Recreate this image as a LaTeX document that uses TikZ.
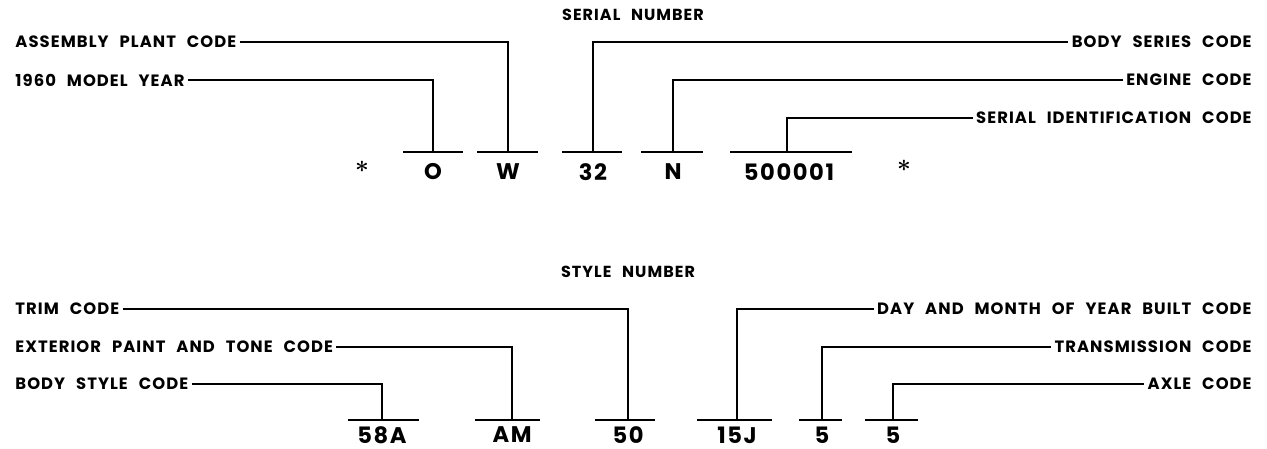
\documentclass[tikz,border=0pt]{standalone}
\usepackage{fontspec}
\setmainfont{Poppins}
\newfontfamily\labfont[LetterSpace=6.5,WordSpace=2.4]{Poppins}
\newfontfamily\codefont[LetterSpace=7]{Poppins}
\begin{document}
\begin{tikzpicture}[x=0.5pt,y=-0.5pt,
  lab/.style={font=\labfont\bfseries\fontsize{8.2}{9}\selectfont,inner sep=1.5pt},
  title/.style={font=\labfont\bfseries\fontsize{8}{9}\selectfont,inner sep=0pt},
  code/.style={font=\codefont\bfseries\fontsize{11.3}{12}\selectfont,inner sep=0pt},
  star/.style={font=\fontsize{12}{12}\selectfont\boldmath,inner sep=0pt},
  bar/.style={line width=1.4pt},
  conn/.style={line width=1pt}]
\useasboundingbox (0,0) rectangle (1267,449);
% ---------- SERIAL NUMBER ----------
\node[title] (sn) at (633,15) {SERIAL NUMBER};
\node[lab,anchor=west] (apc) at (12,42) {ASSEMBLY PLANT CODE};
\node[lab,anchor=west] (my) at (12,80) {1960 MODEL YEAR};
\node[lab,anchor=east] (bsc) at (1255,42) {BODY SERIES CODE};
\node[lab,anchor=east] (ec) at (1255,80) {ENGINE CODE};
\node[lab,anchor=east] (sic) at (1255,118) {SERIAL IDENTIFICATION CODE};
% bars
\draw[bar] (403,152) -- (463,152);
\draw[bar] (477,152) -- (538,152);
\draw[bar] (562,152) -- (622,152);
\draw[bar] (641,152) -- (703,152);
\draw[bar] (730,152) -- (852,152);
\coordinate (bO) at (433,152);
\coordinate (bW) at (508,152);
\coordinate (b32) at (593,152);
\coordinate (bN) at (673,152);
\coordinate (bS) at (787,152);
% codes
\node[star] (s1) at (362,167) {$\ast$};
\node[code] (cO) at (433,172) {O};
\node[code] (cW) at (508,172) {W};
\node[code] (c32) at (593,172) {32};
\node[code] (cN) at (673,172) {N};
\node[code] (cS) at (789,172) {500001};
\node[star] (s2) at (904,166) {$\ast$};
% connectors
\draw[conn] (apc.east) -| (bW);
\draw[conn] (my.east) -| (bO);
\draw[conn] (bsc.west) -| (b32);
\draw[conn] (ec.west) -| (bN);
\draw[conn] (sic.west) -| (bS);
% ---------- STYLE NUMBER ----------
\node[title] (stn) at (628,272) {STYLE NUMBER};
\node[lab,anchor=west] (tc) at (12,309) {TRIM CODE};
\node[lab,anchor=west] (ept) at (12,347) {EXTERIOR PAINT AND TONE CODE};
\node[lab,anchor=west] (bst) at (12,384) {BODY STYLE CODE};
\node[lab,anchor=east] (dm) at (1255,309) {DAY AND MONTH OF YEAR BUILT CODE};
\node[lab,anchor=east] (trc) at (1255,347) {TRANSMISSION CODE};
\node[lab,anchor=east] (ax) at (1255,384) {AXLE CODE};
\draw[bar] (348,420) -- (419,420);
\draw[bar] (475,420) -- (540,420);
\draw[bar] (595,420) -- (655,420);
\draw[bar] (697,420) -- (772,420);
\draw[bar] (799,420) -- (842,420);
\draw[bar] (865,420) -- (918,420);
\coordinate (b58) at (382,420);
\coordinate (bAM) at (512,420);
\coordinate (b50) at (628,420);
\coordinate (b15) at (737,420);
\coordinate (b5a) at (822,420);
\coordinate (b5b) at (893,420);
\node[code] (c58) at (382,435) {58A};
\node[code] (cAM) at (512,435) {AM};
\node[code] (c50) at (628,435) {50};
\node[code] (c15) at (737,435) {15J};
\node[code] (c5a) at (822,435) {5};
\node[code] (c5b) at (893,435) {5};
\draw[conn] (tc.east) -| (b50);
\draw[conn] (ept.east) -| (bAM);
\draw[conn] (bst.east) -| (b58);
\draw[conn] (dm.west) -| (b15);
\draw[conn] (trc.west) -| (b5a);
\draw[conn] (ax.west) -| (b5b);
\end{tikzpicture}
\end{document}
